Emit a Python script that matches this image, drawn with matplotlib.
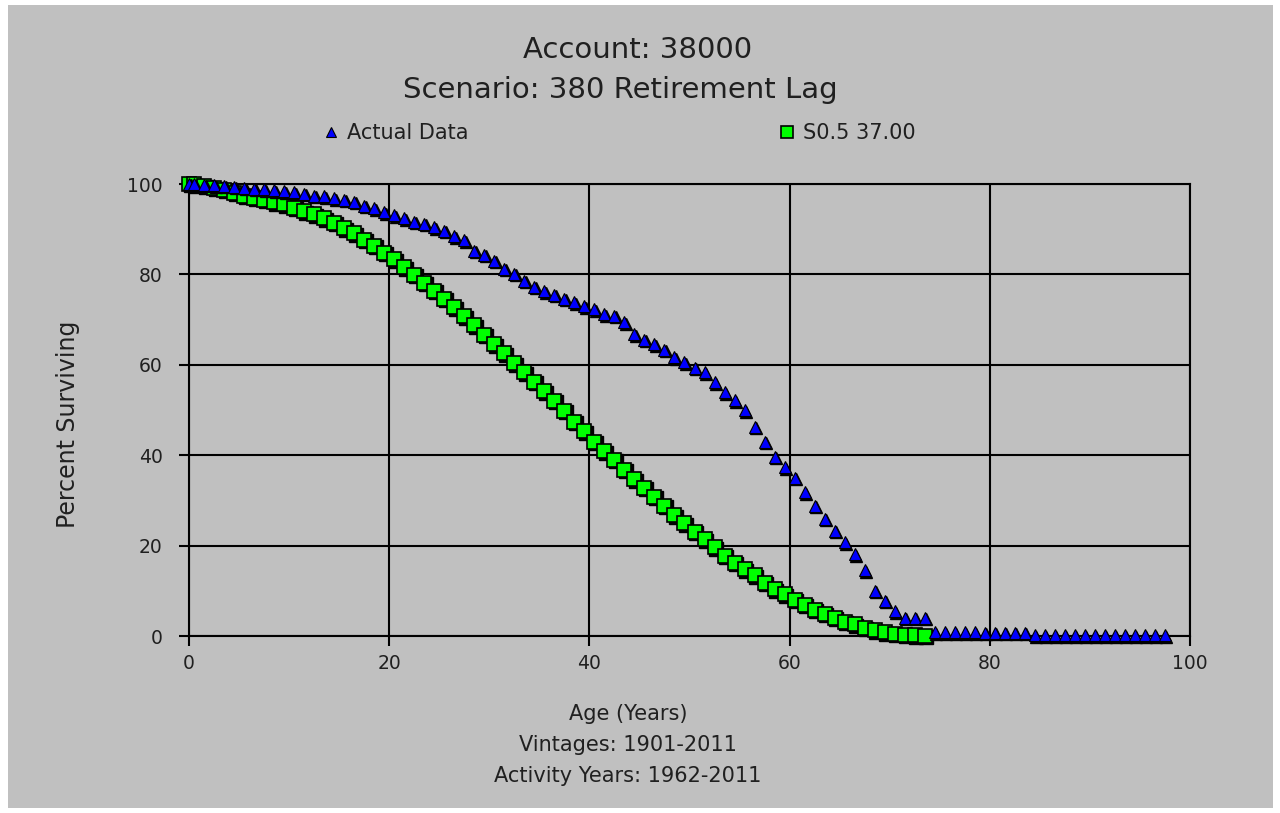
import matplotlib
matplotlib.use('Agg')
import matplotlib.pyplot as plt
from matplotlib.patches import Rectangle
from matplotlib.transforms import offset_copy

# ---------------- data ----------------
actual_age = [0.0, 0.5, 1.5, 2.5, 3.5, 4.5, 5.5, 6.5, 7.5, 8.5, 9.5,
              10.5, 11.5, 12.5, 13.5, 14.5, 15.5, 16.5, 17.5, 18.5, 19.5,
              20.5, 21.5, 22.5, 23.5, 24.5, 25.5, 26.5, 27.5, 28.5, 29.5,
              30.5, 31.5, 32.5, 33.5, 34.5, 35.5, 36.5, 37.5, 38.5, 39.5,
              40.5, 41.5, 42.5, 43.5, 44.5, 45.5, 46.5, 47.5, 48.5, 49.5,
              50.5, 51.5, 52.5, 53.5, 54.5, 55.5, 56.5, 57.5, 58.5, 59.5,
              60.5, 61.5, 62.5, 63.5, 64.5, 65.5, 66.5, 67.5, 68.5, 69.5,
              70.5, 71.5, 72.5, 73.5, 74.5, 75.5, 76.5, 77.5, 78.5, 79.5,
              80.5, 81.5, 82.5, 83.5, 84.5, 85.5, 86.5, 87.5, 88.5, 89.5,
              90.5, 91.5, 92.5, 93.5, 94.5, 95.5, 96.5, 97.5]
actual_pct = [100.0, 99.9, 99.8, 99.7, 99.6, 99.4, 99.2, 99.0, 98.8, 98.6, 98.4,
              98.2, 97.8, 97.4, 97.3, 96.8, 96.5, 96.1, 95.2, 94.6, 93.7,
              93.1, 92.4, 91.7, 91.2, 90.4, 89.7, 88.4, 87.5, 85.2, 84.3,
              83.0, 81.3, 80.1, 78.6, 77.3, 76.3, 75.5, 74.6, 73.8, 72.9,
              72.3, 71.2, 70.9, 69.4, 66.8, 65.5, 64.6, 63.3, 61.7, 60.6,
              59.3, 58.3, 56.1, 53.9, 52.2, 49.9, 46.3, 43.0, 39.7, 37.3,
              35.0, 31.8, 28.8, 25.9, 23.3, 20.7, 18.1, 14.6, 10.0, 7.8,
              5.5, 4.0, 4.0, 4.0, 0.8, 0.8, 0.8, 0.8, 0.8, 0.7,
              0.7, 0.7, 0.7, 0.7, 0.2, 0.2, 0.2, 0.2, 0.2, 0.2,
              0.2, 0.2, 0.2, 0.2, 0.2, 0.2, 0.2, 0.2]

curve_age = [0.0, 0.5, 1.5, 2.5, 3.5, 4.5, 5.5, 6.5, 7.5, 8.5, 9.5,
             10.5, 11.5, 12.5, 13.5, 14.5, 15.5, 16.5, 17.5, 18.5, 19.5,
             20.5, 21.5, 22.5, 23.5, 24.5, 25.5, 26.5, 27.5, 28.5, 29.5,
             30.5, 31.5, 32.5, 33.5, 34.5, 35.5, 36.5, 37.5, 38.5, 39.5,
             40.5, 41.5, 42.5, 43.5, 44.5, 45.5, 46.5, 47.5, 48.5, 49.5,
             50.5, 51.5, 52.5, 53.5, 54.5, 55.5, 56.5, 57.5, 58.5, 59.5,
             60.5, 61.5, 62.5, 63.5, 64.5, 65.5, 66.5, 67.5, 68.5, 69.5,
             70.5, 71.5, 72.5, 73.5]
curve_pct = [100.0, 99.9, 99.6, 99.2, 98.7, 98.1, 97.4, 97.0, 96.5, 96.0, 95.5,
             94.7, 94.0, 93.3, 92.4, 91.4, 90.2, 89.1, 87.7, 86.3, 84.8,
             83.3, 81.6, 79.9, 78.2, 76.4, 74.6, 72.7, 70.7, 68.7, 66.6,
             64.6, 62.5, 60.3, 58.3, 56.3, 54.2, 52.0, 49.8, 47.4, 45.3,
             43.0, 40.9, 39.0, 36.8, 34.7, 32.8, 30.8, 28.8, 26.7, 24.9,
             23.1, 21.4, 19.6, 17.8, 16.2, 14.8, 13.4, 11.8, 10.3, 9.2,
             8.0, 6.9, 5.8, 4.9, 4.0, 3.2, 2.6, 1.8, 1.3, 0.8,
             0.5, 0.3, 0.2, 0.1]

x_ticks = [0, 20, 40, 60, 80, 100]
y_ticks = [0, 20, 40, 60, 80, 100]

title_lines = ["Account: 38000", "Scenario: 380 Retirement Lag"]
series_names = ["Actual Data", "S0.5 37.00"]
x_label_lines = ["Age (Years)", "Vintages: 1901-2011", "Activity Years: 1962-2011"]
y_label = "Percent Surviving"

# ---------------- figure ----------------
W, H = 1280, 813
GRAY = '#c0c0c0'
TXT = '#202020'
plt.rcParams['font.family'] = ['DejaVu Sans']

fig = plt.figure(figsize=(W / 100, H / 100), dpi=100)
fig.patch.set_facecolor('white')
fig.add_artist(Rectangle((8 / W, 1 - 808 / H), (1273 - 8) / W, (808 - 5) / H,
                         transform=fig.transFigure, facecolor=GRAY,
                         edgecolor='none', zorder=-10))

ax = fig.add_axes([189 / W, 1 - 636 / H, (1190 - 189) / W, (636 - 184) / H])
ax.set_facecolor(GRAY)
ax.set_xlim(0, 100)
ax.set_ylim(0, 100)
ax.set_xticks(x_ticks)
ax.set_yticks(y_ticks)
ax.grid(True, color='black', linewidth=1.5)
ax.set_axisbelow(True)
for s in ax.spines.values():
    s.set_color('black')
    s.set_linewidth(1.5)
ax.tick_params(axis='both', direction='out', length=7, width=1.5,
               color='black', labelsize=13.5, labelcolor=TXT)
ax.tick_params(axis='y', pad=12)
ax.tick_params(axis='x', pad=6)

shadow = offset_copy(ax.transData, fig=fig, x=1.5, y=-1.5, units='dots')

# marker shadows
ax.plot(curve_age, curve_pct, linestyle='none', marker='s', markersize=9.5,
        markerfacecolor='black', markeredgecolor='black', markeredgewidth=1.0,
        clip_on=False, zorder=2.5, transform=shadow)
ax.plot(actual_age, actual_pct, linestyle='none', marker='^', markersize=8.5,
        markerfacecolor='black', markeredgecolor='black', markeredgewidth=1.0,
        clip_on=False, zorder=3.5, transform=shadow)

l2, = ax.plot(curve_age, curve_pct, linestyle='none', marker='s',
              markersize=9.5, markerfacecolor='#00ff00', markeredgecolor='black',
              markeredgewidth=1.2, clip_on=False, zorder=3, label=series_names[1])
l1, = ax.plot(actual_age, actual_pct, linestyle='none', marker='^',
              markersize=8.5, markerfacecolor='#0000ff', markeredgecolor='black',
              markeredgewidth=0.8, clip_on=False, zorder=4, label=series_names[0])

# titles
fig.text(638 / W, 1 - 50 / H, title_lines[0], ha='center', va='center',
         fontsize=21, color=TXT)
fig.text(620 / W, 1 - 90 / H, title_lines[1], ha='center', va='center',
         fontsize=21, color=TXT)

# legend
leg1 = fig.legend([l1], [series_names[0]], loc='center left',
                  bbox_to_anchor=(322 / W, 1 - 133 / H), frameon=False,
                  fontsize=15, markerscale=0.9, handlelength=0.9,
                  handletextpad=0.3, borderpad=0, borderaxespad=0)
leg2 = fig.legend([l2], [series_names[1]], loc='center left',
                  bbox_to_anchor=(778 / W, 1 - 133 / H), frameon=False,
                  fontsize=15, markerscale=0.85, handlelength=0.9,
                  handletextpad=0.3, borderpad=0, borderaxespad=0)
for t in leg1.get_texts() + leg2.get_texts():
    t.set_color(TXT)

# axis labels
fig.text(68 / W, 1 - 424 / H, y_label, rotation=90, ha='center', va='center',
         fontsize=17, color=TXT)
for yy, txt in zip([714, 745, 776], x_label_lines):
    fig.text(628 / W, 1 - yy / H, txt, ha='center', va='center',
             fontsize=15, color=TXT)

fig.savefig('out.png', dpi=100, facecolor=fig.get_facecolor())
